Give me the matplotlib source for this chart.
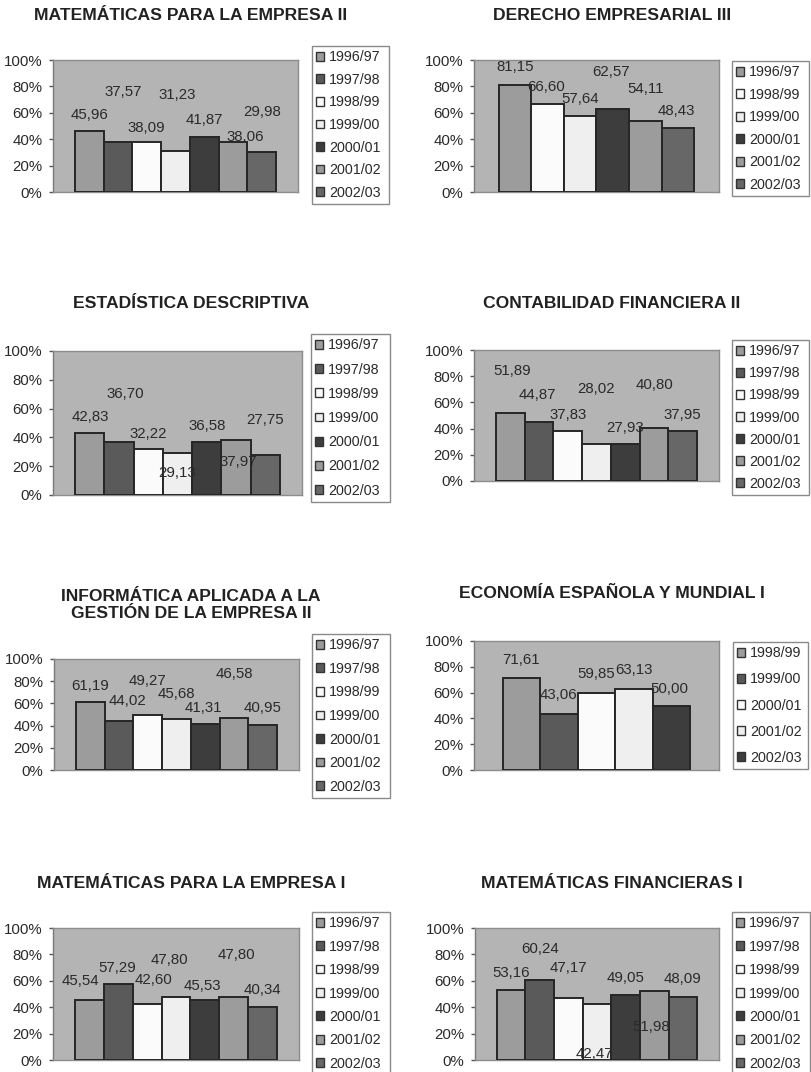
import matplotlib
matplotlib.use("Agg")
import matplotlib.pyplot as plt
from matplotlib.patches import Patch

plt.rcParams['font.family'] = ['Liberation Sans', 'DejaVu Sans']

# ---------------- data ----------------
years_all = ["1996/97", "1997/98", "1998/99", "1999/00", "2000/01", "2001/02", "2002/03"]
years_der = ["1996/97", "1998/99", "1999/00", "2000/01", "2001/02", "2002/03"]
years_eco = ["1998/99", "1999/00", "2000/01", "2001/02", "2002/03"]

title_1 = "MATEMÁTICAS PARA LA EMPRESA II"
values_1 = [45.96, 37.57, 38.09, 31.23, 41.87, 38.06, 29.98]

title_2 = "DERECHO EMPRESARIAL III"
values_2 = [81.15, 66.60, 57.64, 62.57, 54.11, 48.43]

title_3 = "ESTADÍSTICA DESCRIPTIVA"
values_3 = [42.83, 36.70, 32.22, 29.13, 36.58, 37.97, 27.75]

title_4 = "CONTABILIDAD FINANCIERA II"
values_4 = [51.89, 44.87, 37.83, 28.02, 27.93, 40.80, 37.95]

title_5 = "INFORMÁTICA APLICADA A LA\nGESTIÓN DE LA EMPRESA II"
values_5 = [61.19, 44.02, 49.27, 45.68, 41.31, 46.58, 40.95]

title_6 = "ECONOMÍA ESPAÑOLA Y MUNDIAL I"
values_6 = [71.61, 43.06, 59.85, 63.13, 50.00]

title_7 = "MATEMÁTICAS PARA LA EMPRESA I"
values_7 = [45.54, 57.29, 42.60, 47.80, 45.53, 47.80, 40.34]

title_8 = "MATEMÁTICAS FINANCIERAS I"
values_8 = [53.16, 60.24, 47.17, 42.47, 49.05, 51.98, 48.09]

y_ticks = [0, 20, 40, 60, 80, 100]
y_tick_labels = ["0%", "20%", "40%", "60%", "80%", "100%"]

# ---------------- styles / layout ----------------
series_colors = ["#9c9c9c", "#5a5a5a", "#fbfbfb", "#efefef", "#3d3d3d", "#9c9c9c", "#676767"]
cidx_all = [0, 1, 2, 3, 4, 5, 6]
cidx_der = [0, 2, 3, 4, 5, 6]
cidx_eco = [0, 1, 2, 3, 4]

# label placement (y in axis %, dx in bar widths) as in the original misplaced Excel labels
label_y_1 = [58.6, 75.7, 48.4, 73.2, 54.8, 41.4, 60.4]
label_dx_1 = [0, 0.17, 0, 0.07, 0, 0.43, 0]
label_y_2 = [94.7, 79.6, 70.7, 91.1, 78.1, 61.0]
label_dx_2 = [0, -0.04, 0, -0.06, 0, -0.04]
label_y_3 = [54.3, 70.0, 42.7, 15.5, 48.0, 22.6, 52.0]
label_dx_3 = [0, 0.2, 0, 0, 0, 0.09, 0]
label_y_4 = [84.2, 65.6, 50.4, 70.0, 40.2, 73.3, 50.4]
label_dx_4 = [0.08, -0.05, 0, 0, 0, 0, 0]
label_y_5 = [75.9, 62.3, 80.4, 68.7, 56.3, 86.7, 56.3]
label_dx_5 = [0, 0.3, 0, 0, -0.08, 0, 0]
label_y_6 = [85.6, 58.0, 74.7, 77.3, 63.1]
label_dx_6 = [0, 0, 0, 0, -0.05]
label_y_7 = [59.5, 69.6, 60.3, 75.9, 56.2, 79.7, 52.7]
label_dx_7 = [-0.32, -0.05, 0.23, -0.23, -0.08, 0.08, 0]
label_y_8 = [65.8, 84.0, 69.6, 4.6, 62.0, 25.3, 61.5]
label_dx_8 = [0, 0, 0, -0.1, 0, -0.1, 0]

# pixel rectangles (x0, y_top, x1, y_bottom)
axes_px = [(53, 60, 298, 192), (474, 60, 719, 192),
           (53, 351, 302, 495), (474, 350, 719, 481),
           (54, 659, 299, 770), (474, 641, 719, 770),
           (53, 928, 299, 1060), (475, 928, 719, 1060)]
legend_px = [(312, 46, 389, 204), (732, 61, 809, 196),
             (311, 334, 390, 502), (732, 340, 809, 495),
             (312, 634, 390, 798), (733, 642, 808, 769),
             (312, 912, 390, 1075), (732, 912, 810, 1075)]
title_px = [(191, 15), (612, 15), (191, 304), (612, 304),
            (191, 605), (612, 594), (191, 884), (612, 884)]

charts = [
    (title_1, years_all, values_1, cidx_all, label_y_1, label_dx_1),
    (title_2, years_der, values_2, cidx_der, label_y_2, label_dx_2),
    (title_3, years_all, values_3, cidx_all, label_y_3, label_dx_3),
    (title_4, years_all, values_4, cidx_all, label_y_4, label_dx_4),
    (title_5, years_all, values_5, cidx_all, label_y_5, label_dx_5),
    (title_6, years_eco, values_6, cidx_eco, label_y_6, label_dx_6),
    (title_7, years_all, values_7, cidx_all, label_y_7, label_dx_7),
    (title_8, years_all, values_8, cidx_all, label_y_8, label_dx_8),
]

W, H = 812, 1072
fig = plt.figure(figsize=(W / 100, H / 100), dpi=100)
fig.patch.set_facecolor("white")

TXT = "#2a2a2a"
LEG_FS = 10.3
legends = []

for k, (title, years, values, cidx, ly, ldx) in enumerate(charts):
    x0, yt, x1, yb = axes_px[k]
    ax = fig.add_axes([x0 / W, 1 - yb / H, (x1 - x0) / W, (yb - yt) / H])
    ax.set_facecolor("#b4b4b4")
    n = len(values)
    xs = list(range(n))
    cols = [series_colors[c] for c in cidx]
    ax.bar(xs, values, width=1.0, color=cols, edgecolor="#262626", linewidth=1.4, zorder=3)
    ax.set_xlim(-0.5 - 0.76, n - 0.5 + 0.76)
    ax.set_ylim(0, 100)
    ax.set_yticks(y_ticks)
    ax.set_yticklabels(y_tick_labels)
    ax.set_xticks([])
    ax.tick_params(axis="y", direction="out", length=3, width=1, color="#555555",
                   labelsize=10.8, labelcolor=TXT, pad=4.5)
    for s in ["top", "right", "bottom"]:
        ax.spines[s].set_color("#8c8c8c")
        ax.spines[s].set_linewidth(1.0)
    ax.spines["left"].set_color("#7a7a7a")
    ax.spines["left"].set_linewidth(1.0)
    for i, v in enumerate(values):
        ax.text(xs[i] + ldx[i], ly[i], f"{v:.2f}".replace(".", ","), ha="center", va="center",
                fontsize=10.8, color=TXT, zorder=5)

    # title
    tx, ty = title_px[k]
    fig.text(tx / W, 1 - ty / H, title, ha="center", va="center", fontsize=12.6,
             fontweight="bold", color="#222222", linespacing=1.2)

    handles = [Patch(facecolor=c, edgecolor="#333333", linewidth=1.0) for c in cols]
    legends.append((ax, handles, years, legend_px[k]))


def make_leg(ax, handles, years, rect, spacing):
    lx0, lyt, lx1, lyb = rect
    leg = ax.legend(handles, years, loc="upper left",
                    bbox_to_anchor=(lx0 / W, 1 - lyt / H - 0.0001, (lx1 - lx0) / W, 0.0001),
                    bbox_transform=fig.transFigure, mode="expand", borderaxespad=0,
                    fontsize=LEG_FS, frameon=True, fancybox=False, shadow=False,
                    framealpha=1, edgecolor="#8a8a8a", borderpad=0.3,
                    handlelength=0.56, handleheight=0.56, handletextpad=0.35,
                    labelspacing=spacing, labelcolor=TXT)
    leg.get_frame().set_linewidth(1.0)
    return leg


legs = [make_leg(a, h, y, r, 0.5) for (a, h, y, r) in legends]
fig.canvas.draw()
fs_px = LEG_FS * 100 / 72
for j, (a, h, y, r) in enumerate(legends):
    hh = legs[j].get_window_extent().height
    target = r[3] - r[1]
    n = len(y)
    sp = 0.5 + (target - hh) / ((n - 1) * fs_px)
    legs[j].remove()
    make_leg(a, h, y, r, sp)

fig.savefig("out.png", dpi=100, facecolor="white")
